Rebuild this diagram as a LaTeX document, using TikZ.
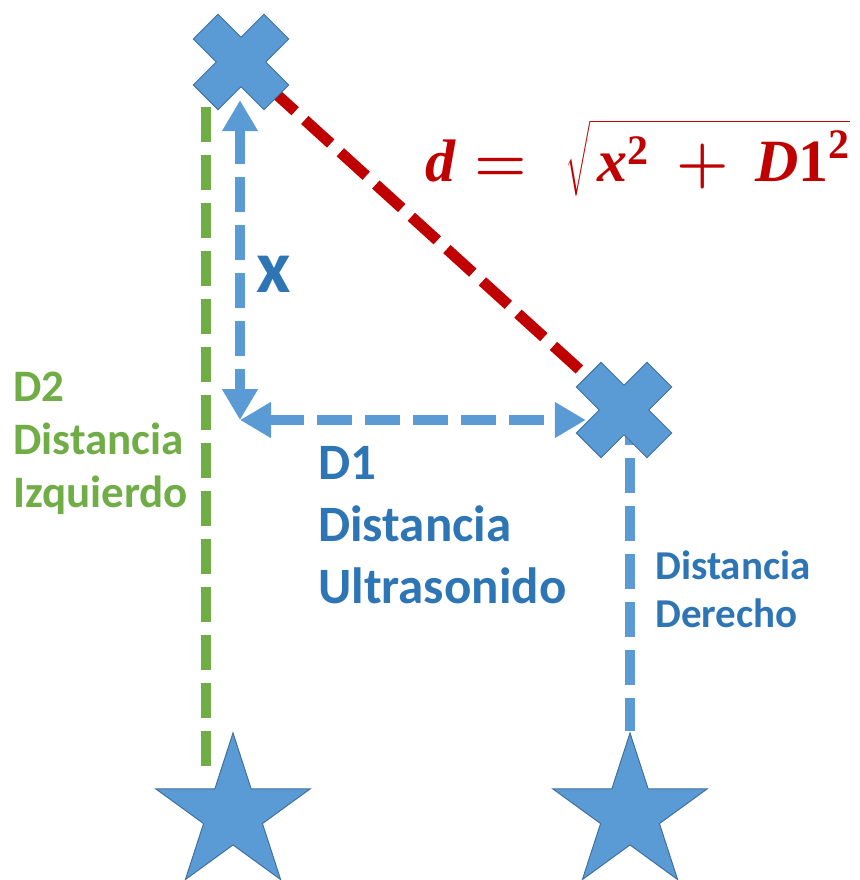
\RequirePackage{fix-cm}
\documentclass[tikz,border=0pt]{standalone}
\usepackage{amsmath}
\usepackage[no-math]{fontspec}
\setmainfont{Carlito}
\newfontfamily\formfont{Liberation Serif}
\usetikzlibrary{shapes.geometric, arrows.meta, positioning, calc}
\definecolor{shapeblue}{RGB}{91, 155, 213}
\definecolor{edgeblue}{RGB}{65, 113, 156}
\definecolor{textblue}{RGB}{46, 117, 182}
\definecolor{leftgreen}{RGB}{112, 173, 71}
\definecolor{formred}{RGB}{192, 0, 0}
\newcommand{\fvar}[1]{\text{\formfont\bfseries\itshape #1}}
\newcommand{\fnum}[1]{\text{\formfont\bfseries #1}}

\tikzset{
  xmark/.pic={
    \filldraw[fill=shapeblue, draw=edgeblue, line width=1pt, rotate=45]
      (50,17.5) -- (17.5,17.5) -- (17.5,50) -- (-17.5,50) -- (-17.5,17.5) -- (-50,17.5)
      -- (-50,-17.5) -- (-17.5,-17.5) -- (-17.5,-50) -- (17.5,-50) -- (17.5,-17.5) -- (50,-17.5) -- cycle;
  },
  hit/.style={circle, minimum size=76pt, inner sep=0pt},
  starnode/.style={star, star points=5, star point ratio=2.618, fill=shapeblue, draw=edgeblue, line width=1pt, minimum size=162pt, inner sep=0pt},
  dashline/.style={line width=10pt, dash pattern=on 35pt off 13pt},
  bluearrow/.style={dashline, draw=shapeblue, {Triangle[length=31pt, width=34pt]}-{Triangle[length=31pt, width=34pt]}},
  lbl/.style={align=left, inner sep=0pt, anchor=north west}
}

\begin{document}
\begin{tikzpicture}[x=1pt, y=-1pt]
  \useasboundingbox (0,0) rectangle (859,880);

  \node[hit] (xa) at (241,62) {};
  \node[hit] (xb) at (624,410) {};
  \coordinate (corner) at (240,420);
  \coordinate (gtop) at (206,107);
  \coordinate (gbot) at (206,773);
  \node[starnode] (sl) at (233,814) {};
  \node[starnode] (sr) at (630,814) {};

  % distances
  \draw[dashline, draw=formred, line width=11pt] (xa) -- (xb);
  \draw[dashline, draw=leftgreen] (gtop) -- (gbot);
  \draw[dashline, draw=shapeblue] (sr.north |- xb) -- (sr.north);
  \draw[bluearrow] (corner |- xa.south) -- (corner);
  \draw[bluearrow] (corner) -- (corner -| xb.west);

  \pic at (xa) {xmark};
  \pic at (xb) {xmark};

  \node[lbl, text=leftgreen, font=\fontsize{45}{53}\selectfont\bfseries] (d2) at (13,372) {D2\\Distancia\\Izquierdo};
  \node[lbl, text=textblue, font=\fontsize{51}{62}\selectfont\bfseries] (d1) at (318,446) {D1\\Distancia\\Ultrasonido};
  \node[lbl, text=textblue, font=\fontsize{41}{48}\selectfont\bfseries] (dd) at (655,551) {Distancia\\Derecho};
  \node[text=textblue, font=\fontsize{75}{75}\selectfont\bfseries] (xlbl) at (274,274) {x};
  \node[anchor=west, inner sep=0pt, text=formred, font=\fontsize{60}{62}\selectfont\boldmath] (form) at (425,158)
    {$\fvar{d} = \; \sqrt{\mkern2mu \fvar{x}^{\fnum{2}} \mkern3mu + \mkern3mu \fvar{D}\fnum{1}^{\fnum{2}}}$};
\end{tikzpicture}
\end{document}
